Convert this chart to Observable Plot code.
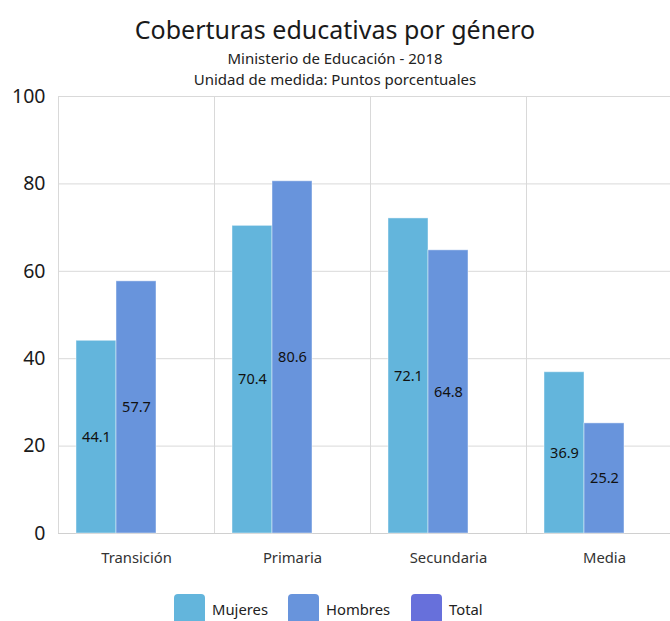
<!DOCTYPE html>
<html>
<head>
<meta charset="utf-8">
<script src="https://cdn.jsdelivr.net/npm/d3@7"></script>
<script src="https://cdn.jsdelivr.net/npm/@observablehq/plot@0.6"></script>
<style>
  html, body { margin: 0; padding: 0; background: #fff; overflow: hidden; width: 670px; height: 621px; }
  body { font-family: "Noto Sans", "Open Sans", sans-serif; color: #222; }
  #head { height: 76px; text-align: center; position: relative; }
  #title { position: absolute; left: 0; right: 0; top: 13px; font-size: 25px; line-height: 32px; color: #1a1a1a; }
  #sub1 { position: absolute; left: 0; right: 0; top: 48px; font-size: 15px; line-height: 20px; color: #222; }
  #sub2 { position: absolute; left: 0; right: 0; top: 69px; font-size: 15px; line-height: 20px; color: #222; }
  #chart svg { display: block; overflow: hidden; }
  #legend { position: relative; height: 45px; }
  .item { position: absolute; top: 18px; display: flex; align-items: flex-start; }
  .sw { width: 31px; height: 30px; border-radius: 4px; }
  .lab { margin-left: 7px; font-size: 14.8px; line-height: 20px; margin-top: 5px; color: #222; }
</style>
</head>
<body>
<div id="head">
  <div id="title">Coberturas educativas por género</div>
  <div id="sub1">Ministerio de Educación - 2018</div>
  <div id="sub2">Unidad de medida: Puntos porcentuales</div>
</div>
<div id="chart"></div>
<div id="legend"></div>
<script>
const categories = ["Transición", "Primaria", "Secundaria", "Media"];
const series = ["Mujeres", "Hombres", "Total"];
const mujeres = [44.1, 70.4, 72.1, 36.9];
const hombres = [57.7, 80.6, 64.8, 25.2];
const total = [null, null, null, null];
const colors = ["#63b5dc", "#6894dc", "#6770db"];
const yTicks = [0, 20, 40, 60, 80, 100];

const seriesValues = [mujeres, hombres, total];
const data = [];
categories.forEach((c, i) => {
  series.forEach((s, j) => {
    const v = seriesValues[j][i];
    if (v != null) data.push({category: c, serie: s, value: v});
  });
});

const chart = Plot.plot({
  width: 670,
  height: 500,
  marginTop: 20,
  marginBottom: 43,
  marginLeft: 58,
  marginRight: 0,
  style: {fontFamily: '"Noto Sans", "Open Sans", sans-serif', background: "#fff"},
  fx: {domain: categories, range: [58, 682], padding: 0, label: null},
  x: {domain: series, paddingInner: 0, paddingOuter: 0.435, axis: null},
  y: {domain: [0, 100], ticks: yTicks, label: null},
  color: {domain: series, range: colors},
  marks: [
    Plot.gridY(yTicks, {stroke: "#d9d9d9", strokeOpacity: 1}),
    Plot.frame({anchor: "left", stroke: "#d9d9d9", strokeOpacity: 1}),
    Plot.ruleY([0], {stroke: "#d0d0d0"}),
    Plot.axisY(yTicks, {tickSize: 0, tickPadding: 13, fontSize: 19.5, fill: "#1a1a1a", label: null}),
    Plot.axisFx({anchor: "bottom", tickSize: 0, tickPadding: 19, fontSize: 14.8, fill: "#333", label: null}),
    Plot.barY(data, {fx: "category", x: "serie", y: "value", fill: "serie", stroke: "#ffffff", strokeOpacity: 0.45, strokeWidth: 1}),
    Plot.text(data, {fx: "category", x: "serie", y: d => d.value / 2, text: d => d.value.toFixed(1), fontSize: 14.5, fill: "#111"})
  ]
});
document.getElementById("chart").appendChild(chart);

const legend = document.getElementById("legend");
const lx = [174, 288, 411];
series.forEach((s, j) => {
  const it = document.createElement("div");
  it.className = "item";
  it.style.left = lx[j] + "px";
  it.innerHTML = `<div class="sw" style="background:${colors[j]}"></div><div class="lab">${s}</div>`;
  legend.appendChild(it);
});
</script>
</body>
</html>
